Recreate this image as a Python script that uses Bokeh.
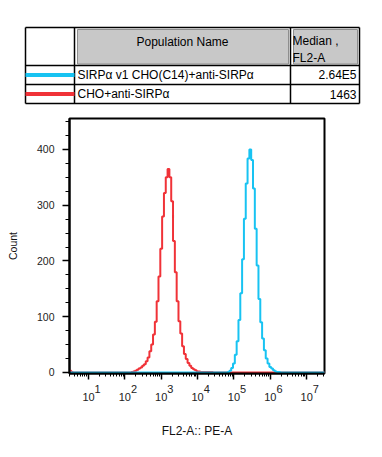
import numpy as np
from bokeh.plotting import figure
from bokeh.models import (Range1d, FixedTicker, SingleIntervalTicker, CustomJSTickFormatter, LogAxis)
from bokeh.layouts import column
from bokeh.embed import file_html
from bokeh.resources import INLINE
from bokeh.core.properties import value

# ---------------- data ----------------
series_names = ["SIRPα v1 CHO(C14)+anti-SIRPα", "CHO+anti-SIRPα"]
series_medians = ["2.64E5", "1463"]
series_colors = ["#18C3F2", "#F03238"]

channel_step = 0.05          # channel width in decades
channel_first = 0.45         # log10 of first channel
channel_last = 7.50          # log10 of last channel

# CHO+anti-SIRPa (red) counts, channels from 10^2.20 upward
red_first = 2.20
red_counts = [1, 2, 3, 5, 7, 9, 12, 15, 20, 27, 38, 50, 68, 91, 128, 172, 222, 280, 322, 350,
              365, 350, 307, 236, 180, 128, 92, 70, 47, 33, 24, 17, 12, 8, 6, 4, 2, 2, 1, 1,
              1, 1, 1, 1, 1]
red_low_edge = [3, 1]        # pile-up in the lowest channels

# SIRPa v1 CHO(C14)+anti-SIRPa (cyan) counts, channels from 10^4.80 upward
blue_first = 4.80
blue_counts = [0, 1, 3, 8, 16, 32, 56, 94, 142, 203, 276, 339, 384, 400, 381, 330, 258, 192, 132, 90,
               61, 40, 25, 16, 10, 7, 4, 2, 1, 1]

x_decades = [1, 2, 3, 4, 5, 6, 7]
x_min, x_max = 3.0, 3.1e7
y_min, y_max = -1.8, 455.6

# ---------------- build series ----------------
grid = np.round(np.arange(channel_first, channel_last + 1e-9, channel_step), 3)
n = len(grid)

def full_series(first, counts, low=None):
    c = np.zeros(n)
    i0 = int(round((first - channel_first) / channel_step))
    c[i0:i0 + len(counts)] = counts
    if low:
        c[1:1 + len(low)] = low
    return c

red_full = full_series(red_first, red_counts, red_low_edge)
blue_full = full_series(blue_first, blue_counts)
xs = 10 ** grid

FONT = value("Liberation Sans")
W = 382

# ---------------- table (legend) ----------------
t = figure(width=W, height=113, x_range=Range1d(0, W), y_range=Range1d(113, 0),
           output_backend="svg", toolbar_location=None, min_border=0,
           x_axis_location=None, y_axis_location=None, outline_line_color=None)
t.grid.visible = False
t.frame_align = False

t.quad(left=[77, 293], right=[288, 357], top=[29, 29], bottom=[63.5, 63.5],
       fill_color="#C8C8C8", line_color="#8E8E8E", line_width=1)
t.segment(x0=[25, 25, 25, 25], x1=[359, 359, 359, 359], y0=[27, 65, 84, 103], y1=[27, 65, 84, 103],
          line_color="black", line_width=1.5)
t.segment(x0=[25, 74, 290, 359], x1=[25, 74, 290, 359], y0=[27, 27, 27, 27], y1=[103, 103, 103, 103],
          line_color="black", line_width=1.5)
t.segment(x0=[25, 25], x1=[74, 74], y0=[74.5, 93.5], y1=[74.5, 93.5],
          line_color=series_colors, line_width=4)

t.text(x=[182], y=[41], text=["Population Name"], text_font=FONT, text_font_size="12px",
       text_align="center", text_baseline="middle", text_color="black")
t.text(x=[292, 292], y=[40, 57], text=["Median ,", "FL2-A"], text_font=FONT, text_font_size="12px",
       text_align="left", text_baseline="middle", text_color="black")
t.text(x=[77, 77], y=[74.5, 93.5], text=series_names, text_font=FONT, text_font_size="12px",
       text_align="left", text_baseline="middle", text_color="black")
t.text(x=[356, 356], y=[74.5, 93.5], text=series_medians, text_font=FONT, text_font_size="12px",
       text_align="right", text_baseline="middle", text_color="black")

# ---------------- histogram ----------------
p = figure(width=W, height=344, x_axis_type="log",
           x_range=Range1d(x_min, x_max), y_range=Range1d(y_min, y_max),
           output_backend="svg", toolbar_location=None,
           min_border_left=69, min_border_right=58, min_border_top=5, min_border_bottom=84)
p.frame_align = False
p.grid.visible = False
p.outline_line_color = "black"
p.outline_line_width = 2

p.step(xs, red_full, mode="center", line_color=series_colors[1], line_width=2)
p.step(xs, blue_full, mode="center", line_color=series_colors[0], line_width=2)

minor = [m * 10 ** k for k in range(0, 8) for m in range(2, 10) if x_min <= m * 10 ** k <= x_max]
decade_ticker = FixedTicker(ticks=[10 ** k for k in x_decades], minor_ticks=minor)

# primary x axis: ticks + raised exponents
xa = p.xaxis[0]
xa.ticker = decade_ticker
xa.formatter = CustomJSTickFormatter(
    code="return '\u2007\u2007\u2007' + Math.round(Math.log10(tick));")
xa.major_tick_in = 0
xa.major_tick_out = 6
xa.minor_tick_in = 0
xa.minor_tick_out = 3
xa.axis_line_width = 2
xa.major_tick_line_width = 1.5
xa.minor_tick_line_width = 1
xa.major_label_standoff = 3
xa.major_label_text_font = "Liberation Sans"
xa.major_label_text_font_size = "11px"
xa.major_label_text_color = "#222222"

# second x axis below: the base "10" of each decade label + title
xb = LogAxis(ticker=decade_ticker, formatter=CustomJSTickFormatter(code="return '10';"))
xb.axis_line_color = None
xb.major_tick_line_color = None
xb.minor_tick_line_color = None
xb.major_tick_in = 0
xb.major_tick_out = 0
xb.minor_tick_in = 0
xb.minor_tick_out = 0
xb.major_label_standoff = -5
xb.major_label_text_font = "Liberation Sans"
xb.major_label_text_font_size = "11px"
xb.major_label_text_color = "#222222"
xb.axis_label = "FL2-A:: PE-A"
xb.axis_label_text_font = "Liberation Sans"
xb.axis_label_text_font_size = "12px"
xb.axis_label_text_font_style = "normal"
xb.axis_label_text_color = "#111111"
xb.axis_label_standoff = 20
p.add_layout(xb, "below")

ya = p.yaxis[0]
ya.ticker = SingleIntervalTicker(interval=100, num_minor_ticks=4)
ya.major_tick_in = 0
ya.major_tick_out = 7
ya.minor_tick_in = 0
ya.minor_tick_out = 4
ya.axis_line_width = 2
ya.major_tick_line_width = 1.5
ya.major_label_text_font = "Liberation Sans"
ya.major_label_text_font_size = "10.5px"
ya.major_label_text_color = "#222222"
ya.major_label_standoff = 8
ya.axis_label = "Count"
ya.axis_label_text_font = "Liberation Sans"
ya.axis_label_text_font_size = "10.5px"
ya.axis_label_text_font_style = "normal"
ya.axis_label_text_color = "#111111"
ya.axis_label_standoff = 15

layout = column(t, p)
open("out.html", "w").write(file_html(layout, INLINE))
